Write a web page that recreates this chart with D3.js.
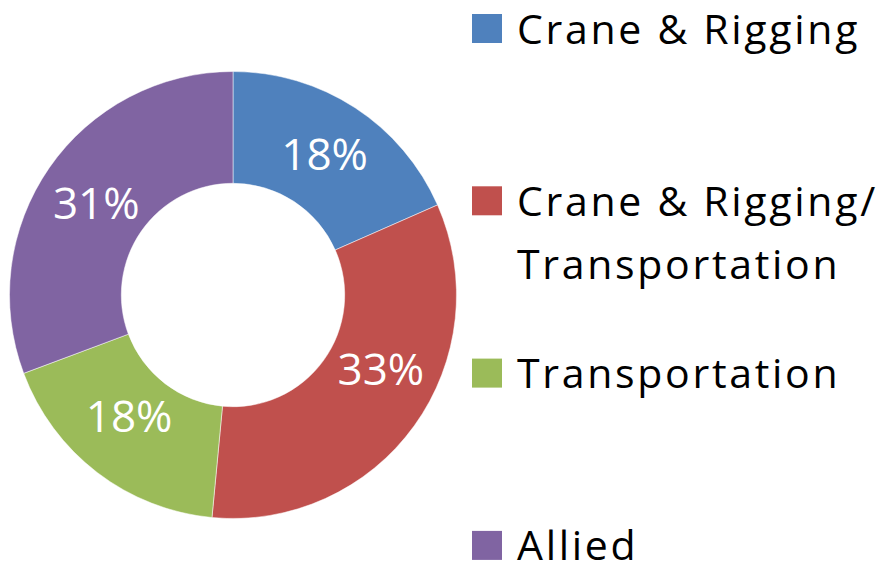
<!DOCTYPE html>
<html>
<head>
<meta charset="utf-8">
<script src="https://cdn.jsdelivr.net/npm/d3@7"></script>
<style>
  body { margin: 0; background: #fff; }
  svg { display: block; }
</style>
</head>
<body>
<svg width="882" height="563"></svg>
<script>
var categories = [
  "Crane & Rigging",
  "Crane & Rigging/ Transportation",
  "Transportation",
  "Allied",
];
var legendLines = [
  ["Crane & Rigging"],
  ["Crane & Rigging/", "Transportation"],
  ["Transportation"],
  ["Allied"],
];
var shares = [18.4, 33.1, 17.8, 30.7];
var colors = ["#4F81BD", "#C0504D", "#9BBB59", "#8064A2"];

var svg = d3.select("svg");
var fontName = "'Open Sans', sans-serif";

var cx = 233, cy = 295, outerR = 223.5, innerR = 111.7;
// small label nudges, like Excel's placement (px)
var labelNudge = [[0, 0], [12, -24], [-2, -12], [1, 4]];

var pie = d3.pie().sort(null).value(function (d) { return d; });
var arc = d3.arc().innerRadius(innerR).outerRadius(outerR);

var total = d3.sum(shares);
var arcs = pie(shares);

var g = svg.append("g").attr("transform", "translate(" + cx + "," + cy + ")");

g.selectAll("path")
  .data(arcs)
  .enter()
  .append("path")
  .attr("d", arc)
  .style("fill", function (d, i) { return colors[i]; })
  .style("stroke", "#fff")
  .style("stroke-width", 0.5);

// percent labels
g.selectAll("text")
  .data(arcs)
  .enter()
  .append("text")
  .attr("transform", function (d, i) {
    var c = arc.centroid(d);
    return "translate(" + (c[0] + labelNudge[i][0]) + "," + (c[1] + labelNudge[i][1]) + ")";
  })
  .attr("text-anchor", "middle")
  .attr("dy", "0.36em")
  .style("font-family", fontName)
  .style("font-size", "44px")
  .style("fill", "#fff")
  .text(function (d) { return Math.round(d.value / total * 100) + "%"; });

// legend
var legend = svg.append("g").attr("transform", "translate(472,0)");
var item = legend.selectAll("g")
  .data(categories)
  .enter()
  .append("g")
  .attr("transform", function (d, i) { return "translate(0," + (14 + i * 172.3) + ")"; });

item.append("rect")
  .attr("width", 30)
  .attr("height", 29)
  .style("fill", function (d, i) { return colors[i]; });

item.each(function (d, i) {
  var t = d3.select(this).append("text")
    .attr("x", 45)
    .attr("y", 29.5)
    .style("font-family", fontName)
    .style("font-size", "41px")
    .style("letter-spacing", "2.7px")
    .style("fill", "#000");
  legendLines[i].forEach(function (line, j) {
    t.append("tspan").attr("x", 45).attr("dy", j == 0 ? 0 : 63).text(line);
  });
});
</script>
</body>
</html>
